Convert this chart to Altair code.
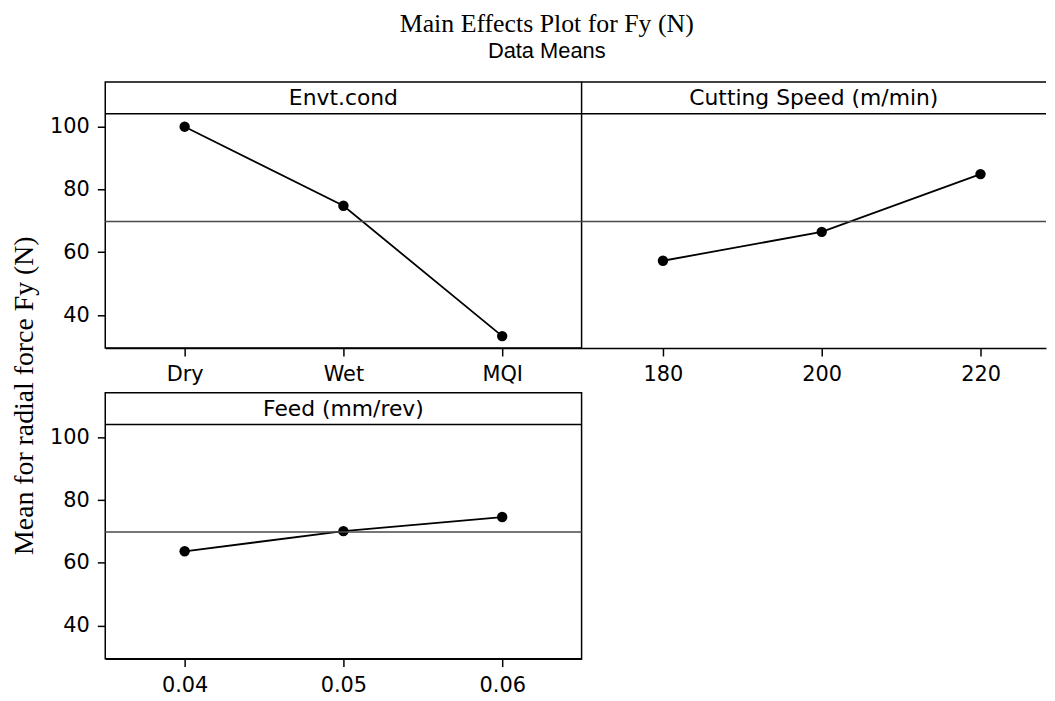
import altair as alt
import pandas as pd

# ---- data ----
envt_levels = ["Dry", "Wet", "MQI"]
envt_means = [100.0, 74.8, 33.3]
speed_levels = [180, 200, 220]
speed_means = [57.3, 66.5, 84.9]
feed_levels = ["0.04", "0.05", "0.06"]
feed_means = [63.7, 70.1, 74.6]
grand_mean = 69.8
panel_titles = ["Envt.cond", "Cutting Speed (m/min)", "Feed (mm/rev)"]
y_title = "Mean for radial force Fy (N)"
y_ticks = [40, 60, 80, 100]
y_domain = [29.5, 114.2]
header_bottom = 104.1
speed_domain = [169.75, 228.25]

FONT = "DejaVu Sans"
W = 480
W_RIGHT = 468
H = 268

yscale = alt.Scale(domain=y_domain, nice=False, zero=False)


def y_axis():
    return alt.Axis(
        values=y_ticks, labelFont=FONT, labelFontSize=21, labelColor="black",
        tickSize=8, tickColor="black", tickWidth=1.5, labelPadding=8,
        domain=False, grid=False, title=None,
    )


def x_axis(**extra):
    return alt.Axis(title=None, labelFont=FONT, labelFontSize=21, labelColor="black",
                    labelAngle=0, tickSize=8, tickColor="black", tickWidth=1.5,
                    labelPadding=8, domain=True, domainColor="black", domainWidth=1.5,
                    grid=False, **extra)


def panel(levels, means, title, kind, show_y, width, top_rule=False):
    df = pd.DataFrame({"level": levels, "mean": means})
    if kind == "O":
        xenc = alt.X("level:O", sort=None,
                     scale=alt.Scale(type="point", padding=0.5), axis=x_axis())
    else:
        xenc = alt.X("level:Q", scale=alt.Scale(domain=speed_domain, nice=False, zero=False),
                     axis=x_axis(values=levels, format="d"))

    def yenc(field):
        return alt.Y(field, scale=yscale, axis=y_axis() if show_y else None)

    base = alt.Chart(df)
    line = base.mark_line(color="black", strokeWidth=1.8).encode(x=xenc, y=yenc("mean:Q"))
    pts = base.mark_circle(color="black", size=110, opacity=1).encode(x=xenc, y=yenc("mean:Q"))

    ref = alt.Chart(pd.DataFrame({"m": [grand_mean]})).mark_rule(
        color="#4a4a4a", strokeWidth=1.5).encode(y=yenc("m:Q"))
    hdr = alt.Chart(pd.DataFrame({"m": [header_bottom]})).mark_rule(
        color="black", strokeWidth=1.5).encode(y=yenc("m:Q"))
    txt = alt.Chart(pd.DataFrame({"t": [title], "m": [(header_bottom + y_domain[1]) / 2]})).mark_text(
        font=FONT, fontSize=22, color="black", baseline="middle", align="center").encode(
        text="t:N", y=yenc("m:Q"), x=alt.value(width / 2))
    layers = [line, pts, ref, hdr, txt]
    if top_rule:
        top = alt.Chart(pd.DataFrame({"m": [y_domain[1]]})).mark_rule(
            color="black", strokeWidth=1.5).encode(y=yenc("m:Q"))
        layers.append(top)
    return alt.layer(*layers).properties(width=width, height=H)


p1 = panel(envt_levels, envt_means, panel_titles[0], "O", True, W)
p2 = panel(speed_levels, speed_means, panel_titles[1], "Q", False, W_RIGHT, top_rule=True).properties(
    view=alt.ViewBackground(strokeOpacity=0))
p3 = panel(feed_levels, feed_means, panel_titles[2], "O", True, W)

# separate narrow chart that carries the shared y-axis title
YT_W = 24
YT_H = 578
ytitle = alt.Chart(pd.DataFrame({"t": [y_title]})).mark_text(
    font="Liberation Serif", fontSize=28, color="black", angle=270,
    align="center", baseline="middle").encode(
    text="t:N", x=alt.value(9), y=alt.value(316)).properties(
    width=YT_W, height=YT_H, view=alt.ViewBackground(strokeOpacity=0))

top_row = alt.hconcat(p1, p2, spacing=0, bounds="flush")
panels = alt.vconcat(top_row, p3, spacing=6)
chart = alt.hconcat(ytitle, panels, spacing=9).properties(
    title=alt.TitleParams(
        text="Main Effects Plot for Fy (N)", subtitle="Data Means",
        font="Liberation Serif", fontSize=26, fontWeight="normal", color="black",
        subtitleFont="Liberation Sans", subtitleFontSize=22, subtitleColor="black",
        subtitlePadding=4, anchor="middle", offset=17, dy=-3, dx=18),
    padding={"left": 2, "top": 0, "right": 0, "bottom": 0},
).configure_view(stroke="black", strokeWidth=1.5)

chart.save("out.html", embed_options={"renderer": "svg", "actions": False})
